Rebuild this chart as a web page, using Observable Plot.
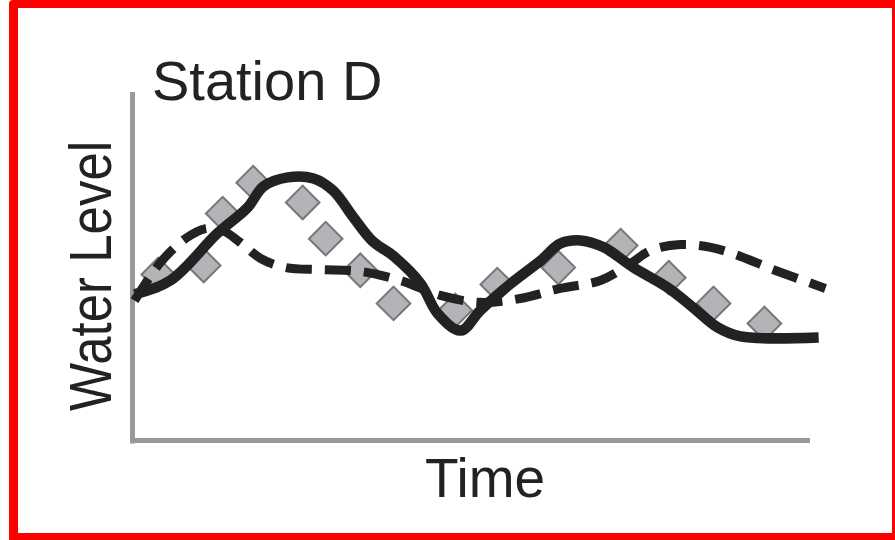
<!DOCTYPE html>
<html>
<head>
<meta charset="utf-8">
<script src="https://cdn.jsdelivr.net/npm/d3@7"></script>
<script src="https://cdn.jsdelivr.net/npm/@observablehq/plot@0.6"></script>
<style>
  html, body { margin: 0; padding: 0; background: #fff; }
  #wrap { position: absolute; left: 0; top: 0; width: 895px; height: 540px; overflow: hidden; }
  #border { position: absolute; left: 9px; top: 0; width: 886px; height: 540px; box-sizing: border-box;
            border-left: 9px solid #ff0000; border-top: 8px solid #ff0000; border-right: 3px solid #ff0000;
            border-bottom: 7px solid #ff0000; border-top-left-radius: 4px; pointer-events: none; }
</style>
</head>
<body>
<div id="wrap"><div id="chart"></div><div id="border"></div></div>
<script>
// Solid line (time, level)
const solidTime  = [0.3, 5.6, 12.5, 17.0, 19.3, 22.9, 26.7, 29.6, 32.6, 35.4, 38.5, 42.5, 45.0, 48.4, 51.3, 55.8, 60.2, 63.1, 66.1, 69.5, 73.9, 78.9, 82.7, 86.3, 89.7, 101.2];
const solidLevel = [42.0, 46.0, 59.5, 67.0, 73.0, 75.6, 75.3, 71.8, 64.1, 57.3, 53.0, 45.1, 36.5, 31.6, 37.4, 45.1, 51.7, 56.6, 57.5, 55.5, 49.7, 44.0, 38.2, 32.5, 29.9, 29.6];
// Dashed line
const dashTime  = [0.3, 4.1, 7.8, 10.8, 13.3, 15.9, 18.9, 22.6, 27.7, 33.6, 39.5, 45.4, 51.3, 57.2, 63.1, 69.0, 73.5, 76.4, 80.8, 85.3, 89.7, 94.1, 102.2];
const dashLevel = [40.2, 51.1, 58.0, 60.9, 60.3, 56.9, 52.3, 49.7, 49.1, 48.6, 46.0, 41.7, 39.7, 40.8, 43.7, 46.0, 50.9, 54.6, 56.3, 55.5, 52.9, 49.4, 43.7];
// Diamond markers
const diamondTime  = [3.8, 10.5, 13.3, 17.8, 25.1, 28.5, 33.6, 38.5, 47.6, 53.8, 62.8, 72.0, 79.1, 85.7, 93.2];
const diamondLevel = [47.7, 50.3, 65.2, 74.1, 68.4, 58.0, 48.9, 39.4, 37.4, 44.8, 49.7, 56.0, 46.8, 39.4, 33.6];

const titleText = "Station D";
const xLabel = "Time";
const yLabel = "Water Level";

const solid = solidTime.map((t, i) => ({t, v: solidLevel[i]}));
const dashed = dashTime.map((t, i) => ({t, v: dashLevel[i]}));
const diamonds = diamondTime.map((t, i) => ({t, v: diamondLevel[i]}));

const chart = Plot.plot({
  width: 895,
  height: 540,
  marginLeft: 132,
  marginRight: 85,
  marginTop: 92,
  marginBottom: 100,
  x: {domain: [0, 100], axis: null},
  y: {domain: [0, 100], axis: null},
  style: {background: "transparent", overflow: "visible"},
  marks: [
    Plot.ruleY([0], {stroke: "#999", strokeWidth: 5}),
    Plot.ruleX([0], {y1: -1, y2: 100, stroke: "#999", strokeWidth: 5}),
    Plot.dot(diamonds, {x: "t", y: "v", symbol: "square", rotate: 45, r: 13.4, fill: "#b4b4b8", stroke: "#777", strokeWidth: 2}),
    Plot.line(dashed, {x: "t", y: "v", curve: "catmull-rom", stroke: "#222", strokeWidth: 9, strokeDasharray: "26,13", strokeLinecap: "butt"}),
    Plot.line(solid, {x: "t", y: "v", curve: "catmull-rom", stroke: "#222", strokeWidth: 10.5, strokeLinecap: "butt", strokeLinejoin: "round"})
  ]
});
document.getElementById("chart").appendChild(chart);

const svg = d3.select(chart);
const font = "'Liberation Sans', Arial, Helvetica, sans-serif";
svg.append("text").text(titleText)
  .attr("x", 152).attr("y", 100).attr("text-anchor", "start")
  .attr("font-family", font).attr("font-size", 56).attr("fill", "#222");
svg.append("text").text(xLabel)
  .attr("x", 485).attr("y", 497).attr("text-anchor", "middle")
  .attr("font-family", font).attr("font-size", 55).attr("fill", "#222");
svg.append("text").text(yLabel)
  .attr("transform", "translate(111,276) rotate(-90) scale(1,1.15)")
  .attr("text-anchor", "middle")
  .attr("font-family", font).attr("font-size", 51).attr("fill", "#222");
</script>
</body>
</html>
